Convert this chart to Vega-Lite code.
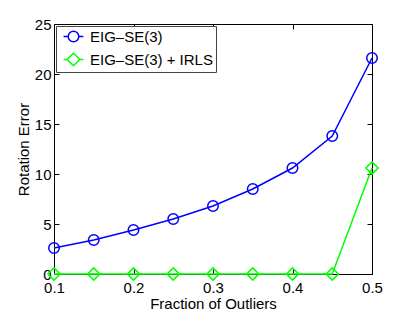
{
  "$schema": "https://vega.github.io/schema/vega-lite/v6.json",
  "width": 318,
  "height": 250,
  "autosize": {"type": "none"},
  "padding": {"left": 54, "top": 24, "right": 39, "bottom": 36},
  "background": "white",
  "config": {
    "font": "Liberation Sans",
    "view": {"stroke": "black", "strokeWidth": 1},
    "axis": {
      "grid": false,
      "domainColor": "black",
      "tickColor": "black",
      "labelColor": "black",
      "titleColor": "black",
      "labelFontSize": 15,
      "titleFontSize": 15,
      "titleFontWeight": "normal",
      "labelFlush": false,
      "tickSize": -5
    }
  },
  "data": {
    "values": [
      {"x": 0.10, "v": 2.6, "s": "EIG–SE(3)"},
      {"x": 0.15, "v": 3.4, "s": "EIG–SE(3)"},
      {"x": 0.20, "v": 4.4, "s": "EIG–SE(3)"},
      {"x": 0.25, "v": 5.5, "s": "EIG–SE(3)"},
      {"x": 0.30, "v": 6.8, "s": "EIG–SE(3)"},
      {"x": 0.35, "v": 8.5, "s": "EIG–SE(3)"},
      {"x": 0.40, "v": 10.6, "s": "EIG–SE(3)"},
      {"x": 0.45, "v": 13.8, "s": "EIG–SE(3)"},
      {"x": 0.50, "v": 21.6, "s": "EIG–SE(3)"},
      {"x": 0.10, "v": 0, "s": "EIG–SE(3) + IRLS"},
      {"x": 0.15, "v": 0, "s": "EIG–SE(3) + IRLS"},
      {"x": 0.20, "v": 0, "s": "EIG–SE(3) + IRLS"},
      {"x": 0.25, "v": 0, "s": "EIG–SE(3) + IRLS"},
      {"x": 0.30, "v": 0, "s": "EIG–SE(3) + IRLS"},
      {"x": 0.35, "v": 0, "s": "EIG–SE(3) + IRLS"},
      {"x": 0.40, "v": 0, "s": "EIG–SE(3) + IRLS"},
      {"x": 0.45, "v": 0, "s": "EIG–SE(3) + IRLS"},
      {"x": 0.50, "v": 10.6, "s": "EIG–SE(3) + IRLS"}
    ]
  },
  "layer": [
    {
      "encoding": {
        "x": {"field": "x", "type": "quantitative",
          "scale": {"domain": [0.1, 0.5], "nice": false, "zero": false},
          "axis": {"orient": "bottom", "title": "Fraction of Outliers", "values": [0.1, 0.2, 0.3, 0.4, 0.5], "format": ".1f", "labelPadding": 11, "titlePadding": 1}},
        "y": {"field": "v", "type": "quantitative",
          "scale": {"domain": [0, 25], "nice": false},
          "axis": {"orient": "left", "title": "Rotation Error", "values": [0, 5, 10, 15, 20, 25], "labelPadding": 8, "titlePadding": 3}},
        "color": {"field": "s", "type": "nominal",
          "scale": {"domain": ["EIG–SE(3)", "EIG–SE(3) + IRLS"], "range": ["#0000ff", "#00ff00"]},
          "legend": {"title": null, "orient": "none", "legendX": 2, "legendY": 2,
            "strokeColor": "#444", "fillColor": "white", "padding": 3, "symbolOffset": 7,
            "symbolSize": 144, "symbolStrokeWidth": 1.5, "symbolOpacity": 1, "symbolFillColor": "transparent",
            "labelFontSize": 15, "labelColor": "black", "labelOffset": 9, "rowPadding": 5, "cornerRadius": 0}}
      },
      "layer": [
        {"mark": {"type": "line", "strokeWidth": 1.5}},
        {"transform": [{"filter": "datum.s == 'EIG–SE(3)'"}],
          "mark": {"type": "point", "shape": "circle", "filled": false, "size": 110, "strokeWidth": 1.5, "opacity": 1}},
        {"transform": [{"filter": "datum.s != 'EIG–SE(3)'"}],
          "mark": {"type": "point", "shape": "diamond", "filled": false, "size": 150, "strokeWidth": 1.5, "opacity": 1}},
        {"mark": {"type": "point", "filled": false, "opacity": 0, "strokeWidth": 1.5},
          "encoding": {
            "shape": {"field": "s", "type": "nominal",
              "scale": {"domain": ["EIG–SE(3)", "EIG–SE(3) + IRLS"],
                "range": ["M-1.65,0L-0.88,0M0.88,0L1.65,0M-0.88,0A0.88,0.88 0 1,0 0.88,0A0.88,0.88 0 1,0 -0.88,0",
                          "M-1.65,0L-1.05,0M1.05,0L1.65,0M-1.05,0L0,-1.05L1.05,0L0,1.05Z"]},
              "legend": {"title": null, "orient": "none", "legendX": 2, "legendY": 2,
                "strokeColor": "#444", "fillColor": "white", "padding": 3, "symbolOffset": 7,
                "symbolSize": 144, "symbolStrokeWidth": 1.5, "symbolOpacity": 1, "symbolFillColor": "transparent",
                "labelFontSize": 15, "labelColor": "black", "labelOffset": 9, "rowPadding": 5, "cornerRadius": 0}}
          }}
      ]
    },
    {
      "mark": {"type": "point", "opacity": 0},
      "encoding": {
        "x": {"field": "x", "type": "quantitative",
          "axis": {"orient": "top", "title": null, "labels": false, "domain": false, "tickWidth": 1, "values": [0.1, 0.2, 0.3, 0.4, 0.5]}},
        "y": {"field": "v", "type": "quantitative",
          "axis": {"orient": "right", "title": null, "labels": false, "domain": false, "tickWidth": 1, "values": [0, 5, 10, 15, 20, 25]}}
      }
    }
  ],
  "resolve": {"axis": {"x": "independent", "y": "independent"}}
}
